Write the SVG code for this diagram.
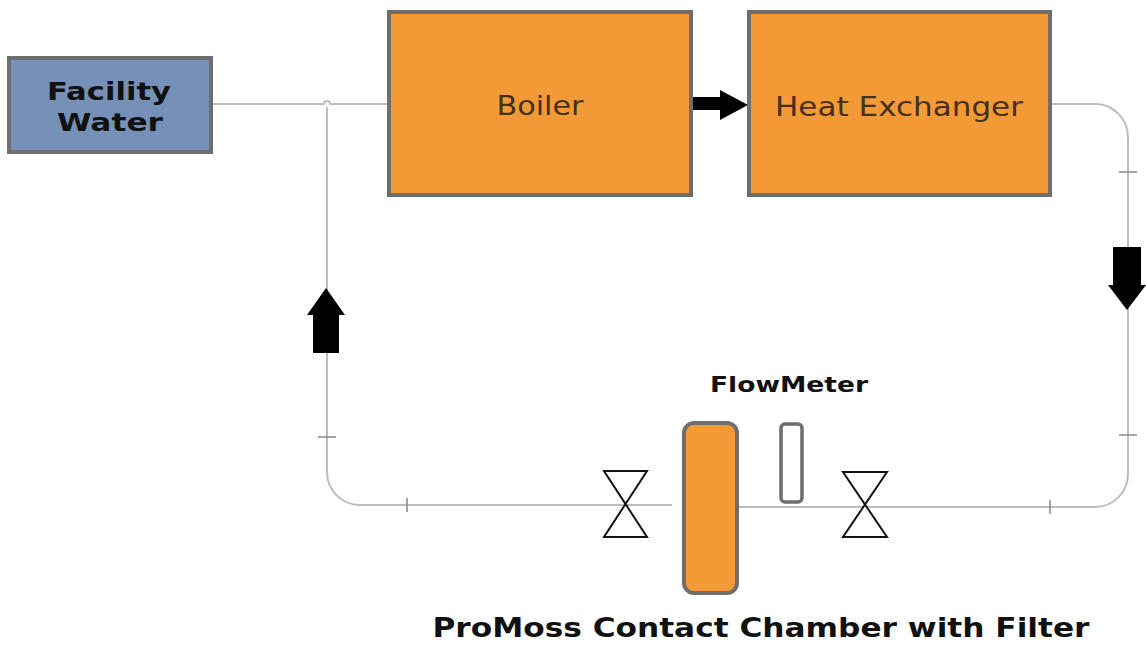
<svg xmlns="http://www.w3.org/2000/svg" width="1146" height="650" viewBox="0 0 1146 650">
<style>
.box{fill:#f39a36;stroke:#6e6e6e;stroke-width:4}
.pipe{fill:none;stroke:#bdbdbd;stroke-width:2}
.tick{stroke:#888;stroke-width:1.5}
.valve{fill:#fff;stroke:#111;stroke-width:2}
.arrow{fill:#000}
.lbl{font-family:"DejaVu Sans",Verdana,sans-serif;fill:#45301c;font-size:27px;text-anchor:middle}
.bold{font-family:"DejaVu Sans",Verdana,sans-serif;font-weight:bold;fill:#111;text-anchor:middle}
</style>
<rect width="1146" height="650" fill="#fff"/>
<g id="connectors">
<path class="pipe" d="M211 104 H324 a3 3 0 0 1 6 0 H389"/>
<path class="pipe" d="M327 107 V472 a33 33 0 0 0 33 33 H672"/>
<path class="pipe" d="M1050 104 H1095 a33 33 0 0 1 33 33 V474 a33 33 0 0 1 -33 33 H737"/>
<line class="tick" x1="318" y1="437" x2="336" y2="437"/>
<line class="tick" x1="407" y1="498" x2="407" y2="512"/>
<line class="tick" x1="1119" y1="172" x2="1137" y2="172"/>
<line class="tick" x1="1119" y1="435" x2="1137" y2="435"/>
<line class="tick" x1="1050" y1="500" x2="1050" y2="514"/>
<polygon class="arrow" points="313,353 339,353 339,315 345,315 326,288 307,315 313,315"/>
<polygon class="arrow" points="1113,247 1141,247 1141,285 1146,285 1127,310 1108,285 1113,285"/>
<polygon class="arrow" points="690,97 720,97 720,90 748,105 720,120 720,110 690,110"/>
</g>
<g id="facility-water">
<rect x="9" y="58" width="202" height="94" fill="#7690b8" stroke="#6e6e6e" stroke-width="4"/>
<text class="bold" x="109" y="100" font-size="25" textLength="124" lengthAdjust="spacingAndGlyphs">Facility</text>
<text class="bold" x="110" y="131" font-size="25" textLength="106" lengthAdjust="spacingAndGlyphs">Water</text>
</g>
<g id="boiler">
<rect class="box" x="389" y="12" width="302" height="183"/>
<text class="lbl" x="540" y="115" textLength="87" lengthAdjust="spacingAndGlyphs">Boiler</text>
</g>
<g id="heat-exchanger">
<rect class="box" x="749" y="12" width="301" height="183"/>
<text class="lbl" x="899" y="116" textLength="248" lengthAdjust="spacingAndGlyphs">Heat Exchanger</text>
</g>
<g id="valve-left">
<polygon class="valve" points="604,471 647,471 604,537 647,537"/>
</g>
<g id="chamber">
<rect class="box" x="684" y="423" width="53" height="170" rx="10"/>
<text class="bold" x="761" y="637" font-size="26" textLength="657" lengthAdjust="spacingAndGlyphs">ProMoss Contact Chamber with Filter</text>
</g>
<g id="flowmeter">
<rect x="781" y="424" width="21" height="78" rx="4" fill="#fff" stroke="#6e6e6e" stroke-width="3.5"/>
<text class="bold" x="789" y="392" font-size="22" textLength="158" lengthAdjust="spacingAndGlyphs">FlowMeter</text>
</g>
<g id="valve-right">
<polygon class="valve" points="843,472 887,472 843,537 887,537"/>
</g>
</svg>
